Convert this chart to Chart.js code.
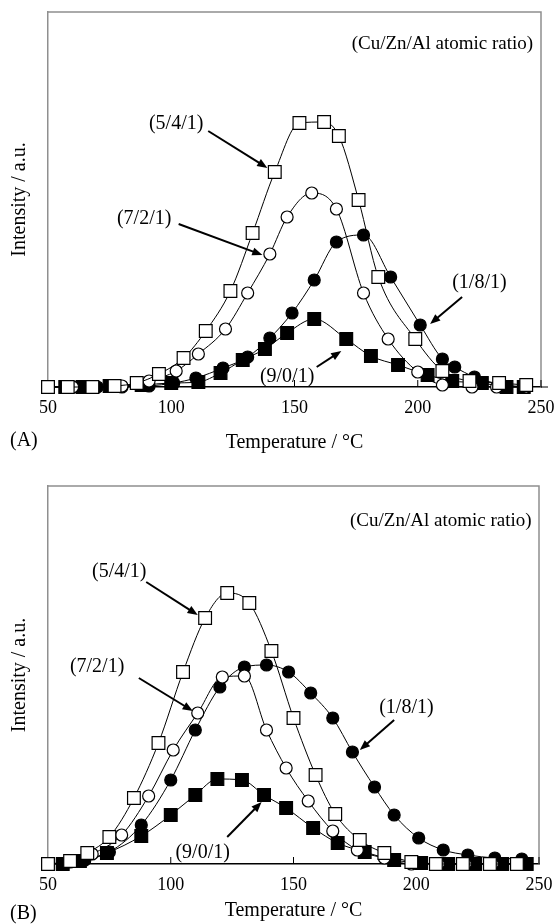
<!DOCTYPE html>
<html>
<head>
<meta charset="utf-8">
<title>Cu/Zn/Al TPR profiles</title>
<script src="https://cdn.jsdelivr.net/npm/chart.js@4.4.1/dist/chart.umd.min.js"></script>
<style>
  html, body { margin: 0; padding: 0; background: #fff; }
  #wrap { position: relative; width: 555px; height: 924px; }
  .panel { position: absolute; left: 0; width: 555px; height: 462px; }
</style>
</head>
<body>
<div id="wrap">
  <div class="panel" style="top:0"><canvas id="chartA"></canvas></div>
  <div class="panel" style="top:462px"><canvas id="chartB"></canvas></div>
</div>
<script>
// ---- Panel (A) ----
const tempA_541 = [50, 58, 68, 77, 86, 95, 105, 114, 124, 133, 142, 152, 162, 168, 176, 184, 199, 210, 221, 233, 244];
const intA_541 = [0, 0, 0, 1, 4, 13, 29, 56, 96, 154, 215, 264, 265, 251, 187, 110, 48, 16, 6, 4, 2];

const tempA_721 = [50, 60, 68, 80, 91, 102, 111, 122, 131, 140, 147, 157, 167, 178, 188, 200, 210, 222, 232, 244];
const intA_721 = [0, 0, 0, 1, 6, 16, 33, 58, 94, 133, 170, 194, 178, 94, 48, 15, 2, 0, 0, 0];

const tempA_181 = [50, 60, 70, 80, 91, 101, 110, 121, 131, 140, 149, 158, 167, 178, 189, 201, 210, 215, 223, 233, 243];
const intA_181 = [0, 0, 0, 0, 1, 4, 9, 19, 30, 49, 74, 107, 145, 152, 110, 62, 28, 20, 10, 3, 0];

const tempA_901 = [50, 57, 64, 75, 88, 100, 111, 120, 129, 138, 147, 158, 171, 181, 192, 204, 214, 226, 236, 243];
const intA_901 = [0, 0, 0, 1, 2, 4, 5, 14, 27, 38, 54, 68, 48, 31, 22, 12, 6, 4, 0, 0];

// ---- Panel (B) ----
const tempB_541 = [50, 59, 66, 75, 85, 95, 105, 114, 123, 132, 141, 150, 159, 167, 177, 187, 198, 208, 219, 230, 241];
const intB_541 = [0, 3, 11, 27, 66, 121, 192, 246, 271, 261, 213, 146, 89, 50, 24, 11, 2, 0, 0, 0, 0];

const tempB_721 = [50, 59, 68, 80, 91, 101, 111, 121, 130, 139, 147, 156, 166, 176, 187, 198, 209, 220, 231, 241];
const intB_721 = [0, 2, 10, 29, 68, 114, 151, 187, 188, 134, 96, 63, 33, 14, 6, 0, 0, 0, 0, 0];

const tempB_181 = [50, 57, 65, 75, 88, 100, 110, 120, 130, 139, 148, 157, 166, 174, 183, 191, 201, 211, 221, 232, 243];
const intB_181 = [0, 1, 4, 12, 39, 84, 134, 177, 197, 199, 192, 171, 146, 112, 77, 49, 26, 14, 9, 6, 5];

const tempB_901 = [50, 56, 63, 74, 88, 100, 110, 119, 129, 138, 147, 158, 168, 179, 191, 202, 213, 224, 235, 245];
const intB_901 = [0, 0, 3, 11, 28, 49, 69, 85, 84, 69, 56, 36, 21, 12, 4, 1, 0, 0, 0, 0];

const xTicks = [50, 100, 150, 200, 250];

const SERIF = "'Liberation Serif', 'Times New Roman', serif";

// labels with arrows, placed in data units (temperature, intensity)
const notesA = [
  { text: "(5/4/1)", at: [102, 263], from: [115, 256], to: [139, 219] },
  { text: "(7/2/1)", at: [89, 168], from: [103, 163], to: [137, 132] },
  { text: "(1/8/1)", at: [225, 104], from: [218, 90], to: [205, 63] },
  { text: "(9/0/1)", at: [147, 10], from: [159, 20], to: [169, 36] },
  { text: "(Cu/Zn/Al atomic ratio)", at: [210, 343], size: 19 }
];
const notesB = [
  { text: "(5/4/1)", at: [79, 292], from: [90, 282], to: [111, 249] },
  { text: "(7/2/1)", at: [70, 197], from: [87, 186], to: [109, 153] },
  { text: "(1/8/1)", at: [196, 156], from: [191, 144], to: [177, 114] },
  { text: "(9/0/1)", at: [113, 11], from: [123, 27], to: [137, 62] },
  { text: "(Cu/Zn/Al atomic ratio)", at: [210, 343], size: 19 }
];

function series(temps, values, shape, filled) {
  return {
    data: temps.map((t, i) => ({ x: t, y: values[i] })),
    showLine: true,
    cubicInterpolationMode: "monotone",
    borderColor: "#000",
    borderWidth: 1,
    pointStyle: shape,
    pointRadius: shape === "rect" ? 9 : 6,
    pointBorderWidth: 1.2,
    pointBorderColor: "#000",
    pointBackgroundColor: filled ? "#000" : "#fff",
    clip: false
  };
}

function drawArrow(ctx, x1, y1, x2, y2) {
  const ang = Math.atan2(y2 - y1, x2 - x1);
  const head = 11;
  ctx.beginPath();
  ctx.moveTo(x1, y1);
  ctx.lineTo(x2 - head * 0.7 * Math.cos(ang), y2 - head * 0.7 * Math.sin(ang));
  ctx.stroke();
  ctx.beginPath();
  ctx.moveTo(x2, y2);
  ctx.lineTo(x2 - head * Math.cos(ang - 0.38), y2 - head * Math.sin(ang - 0.38));
  ctx.lineTo(x2 - head * Math.cos(ang + 0.38), y2 - head * Math.sin(ang + 0.38));
  ctx.closePath();
  ctx.fill();
}

function makeDecor(notes, panelTag, overhang) {
  return {
    id: "decor",
    beforeDatasetsDraw(chart) {
      const { ctx, chartArea: a, scales } = chart;
      ctx.save();
      // grey frame on top and right
      ctx.strokeStyle = "#8f8f8f";
      ctx.lineWidth = 1.5;
      ctx.beginPath();
      ctx.moveTo(a.left, a.top);
      ctx.lineTo(a.right, a.top);
      ctx.lineTo(a.right, a.bottom);
      ctx.stroke();
      // inward ticks on the temperature axis
      ctx.strokeStyle = "#000";
      ctx.lineWidth = 1;
      ctx.beginPath();
      scales.x.ticks.forEach((t) => {
        const px = scales.x.getPixelForValue(t.value);
        ctx.moveTo(px, a.bottom);
        ctx.lineTo(px, a.bottom - 7);
      });
      if (overhang) {
        ctx.moveTo(a.right, a.bottom);
        ctx.lineTo(a.right + overhang, a.bottom);
      }
      ctx.stroke();
      ctx.restore();
    },
    afterDraw(chart) {
      const { ctx, scales } = chart;
      const px = (p) => [scales.x.getPixelForValue(p[0]), scales.y.getPixelForValue(p[1])];
      ctx.save();
      ctx.fillStyle = "#000";
      ctx.strokeStyle = "#000";
      ctx.lineWidth = 2;
      ctx.textAlign = "center";
      ctx.textBaseline = "middle";
      notes.forEach((n) => {
        const [tx, ty] = px(n.at);
        ctx.font = (n.size || 20) + "px " + SERIF;
        ctx.fillText(n.text, tx, ty);
        if (n.from) {
          const [x1, y1] = px(n.from);
          const [x2, y2] = px(n.to);
          drawArrow(ctx, x1, y1, x2, y2);
        }
      });
      // panel tag, level with the axis title
      ctx.font = "20px " + SERIF;
      ctx.textAlign = "left";
      ctx.fillText(panelTag.text, 10, panelTag.y);
      ctx.restore();
    }
  };
}

function buildChart(id, sets, yMax, pad, xAxisH, titlePad, decor) {
  return new Chart(document.getElementById(id), {
    type: "scatter",
    data: {
      datasets: [
        series(sets[0][0], sets[0][1], "rect", false),
        series(sets[1][0], sets[1][1], "circle", false),
        series(sets[2][0], sets[2][1], "circle", true),
        series(sets[3][0], sets[3][1], "rect", true)
      ]
    },
    options: {
      responsive: true,
      maintainAspectRatio: false,
      animation: false,
      layout: { padding: pad },
      plugins: {
        legend: { display: false },
        tooltip: { enabled: false }
      },
      scales: {
        x: {
          type: "linear",
          min: 50,
          max: 250,
          afterBuildTicks: (s) => {
            s.ticks = xTicks.map((v) => ({ value: v }));
          },
          afterFit: (s) => {
            // fixed box; the end labels may spill into the margins
            s.height = xAxisH;
            s.paddingLeft = 0;
            s.paddingRight = 0;
          },
          grid: { display: false, drawTicks: false },
          border: { display: true, color: "#000", width: 1.5 },
          ticks: {
            padding: 10,
            color: "#000",
            font: { family: SERIF, size: 18 }
          },
          title: {
            display: true,
            text: "Temperature / °C",
            color: "#000",
            font: { family: SERIF, size: 20 },
            padding: { top: 0, bottom: titlePad }
          }
        },
        y: {
          type: "linear",
          min: 0,
          max: yMax,
          afterFit: (s) => {
            s.width = 48;
          },
          grid: { display: false, drawTicks: false },
          border: { display: true, color: "#8f8f8f", width: 1.5 },
          ticks: { display: false },
          title: {
            display: true,
            text: "Intensity / a.u.",
            color: "#000",
            font: { family: SERIF, size: 20 },
            padding: { top: 8, bottom: 0 }
          }
        }
      }
    },
    plugins: [decor]
  });
}

buildChart(
  "chartA",
  [[tempA_541, intA_541], [tempA_721, intA_721], [tempA_181, intA_181], [tempA_901, intA_901]],
  375,
  { top: 12, right: 14, left: 0, bottom: 0 },
  75,
  7,
  makeDecor(notesA, { text: "(A)", y: 441 }, 7)
);

buildChart(
  "chartB",
  [[tempB_541, intB_541], [tempB_721, intB_721], [tempB_181, intB_181], [tempB_901, intB_901]],
  378,
  { top: 24, right: 16, left: 0, bottom: 0 },
  60,
  1,
  makeDecor(notesB, { text: "(B)", y: 452 }, 0)
);
</script>
</body>
</html>
